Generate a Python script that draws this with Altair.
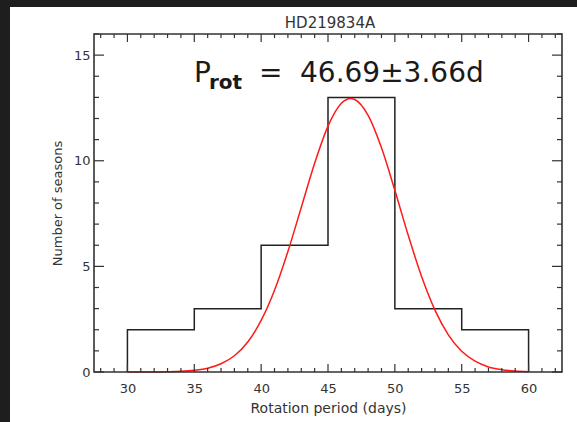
import altair as alt
import pandas as pd

# ---- data ----
bin_left = [30, 35, 40, 45, 50, 55]
bin_right = [35, 40, 45, 50, 55, 60]
counts = [2, 3, 6, 13, 3, 2]

# red fitted curve
fit_x = [30, 31, 32, 33, 34, 35, 36, 37, 38, 39, 40, 41, 42, 43, 44, 45, 46, 46.7,
         47, 48, 49, 50, 51, 52, 53, 54, 55, 56, 57, 58, 59, 60]
fit_y = [0.0, 0.0, 0.0, 0.01, 0.03, 0.08, 0.18, 0.39, 0.77, 1.42, 2.44, 3.87, 5.70,
         7.79, 9.88, 11.64, 12.72, 12.95, 12.90, 12.15, 10.61, 8.60, 6.47, 4.52,
         2.93, 1.76, 0.98, 0.51, 0.24, 0.11, 0.045, 0.017]

x_major = [30, 35, 40, 45, 50, 55, 60]
x_minor = [v for v in range(28, 63) if v % 5 != 0]
y_major = [0, 5, 10, 15]
y_minor = [v for v in range(1, 17) if v % 5 != 0]

title_text = "HD219834A"
x_title = "Rotation period (days)"
y_title = "Number of seasons"
ann_p = "P"
ann_sub = "rot"
ann_eq = "="
ann_val = "46.69\u00b13.66d"

W, H = 468, 338
FONT = "DejaVu Sans"
INK = "#333333"

# ---- tables built from the arrays ----
step_x, step_y = [bin_left[0]], [0]
for l, r, c in zip(bin_left, bin_right, counts):
    step_x += [l, r]
    step_y += [c, c]
step_x.append(bin_right[-1])
step_y.append(0)
hist_df = pd.DataFrame({"x": step_x, "y": step_y, "i": range(len(step_x))})
fit_df = pd.DataFrame({"x": fit_x, "y": fit_y})
one = pd.DataFrame({"k": [0]})

xs = alt.Scale(domain=[27.5, 62.5], nice=False, zero=False)
ys = alt.Scale(domain=[0, 16], nice=False, zero=False)

ax_x = alt.Axis(values=x_major, format="d", ticks=False, domain=False, grid=False,
                labelFont=FONT, labelFontSize=13, labelColor=INK, labelPadding=10,
                title=x_title, titleFont=FONT, titleFontSize=14, titleFontWeight="normal",
                titleColor=INK, titlePadding=6, zindex=1)
ax_y = alt.Axis(values=y_major, format="d", ticks=False, domain=False, grid=False,
                labelFont=FONT, labelFontSize=13, labelColor=INK, labelPadding=4,
                title=y_title, titleFont=FONT, titleFontSize=13, titleFontWeight="normal",
                titleColor=INK, titlePadding=9, zindex=1)

bg = alt.Chart(one).mark_rect(color="white").encode(
    x=alt.value(-84), x2=alt.value(483), y=alt.value(-27), y2=alt.value(388))

hist = alt.Chart(hist_df).mark_line(color="#222222", strokeWidth=1.5).encode(
    x=alt.X("x:Q", scale=xs, axis=ax_x),
    y=alt.Y("y:Q", scale=ys, axis=ax_y),
    order="i:Q")

fit = alt.Chart(fit_df).mark_line(color="#ff1a1a", strokeWidth=1.5, interpolate="monotone").encode(
    x=alt.X("x:Q", scale=xs, axis=ax_x),
    y=alt.Y("y:Q", scale=ys, axis=ax_y))

TICK = "#333333"
def xticks(vals, length):
    d = pd.DataFrame({"v": vals})
    bottom = alt.Chart(d).mark_rule(color=TICK, strokeWidth=1.2).encode(
        x=alt.X("v:Q", scale=xs, axis=ax_x), y=alt.value(H), y2=alt.value(H - length))
    top = alt.Chart(d).mark_rule(color=TICK, strokeWidth=1.2).encode(
        x=alt.X("v:Q", scale=xs, axis=ax_x), y=alt.value(0), y2=alt.value(length))
    return [bottom, top]

def yticks(vals, length):
    d = pd.DataFrame({"v": vals})
    left = alt.Chart(d).mark_rule(color=TICK, strokeWidth=1.2).encode(
        y=alt.Y("v:Q", scale=ys, axis=ax_y), x=alt.value(0), x2=alt.value(length))
    right = alt.Chart(d).mark_rule(color=TICK, strokeWidth=1.2).encode(
        y=alt.Y("v:Q", scale=ys, axis=ax_y), x=alt.value(W), x2=alt.value(W - length))
    return [left, right]

frame = alt.Chart(one).mark_rect(fillOpacity=0, stroke="#333333", strokeWidth=1.6).encode(
    x=alt.value(0), x2=alt.value(W), y=alt.value(0), y2=alt.value(H))

def label(text, x, y, size, weight="normal", align="left", color="#1a1a1a"):
    return alt.Chart(one).mark_text(font=FONT, fontSize=size, fontWeight=weight,
                                    align=align, baseline="alphabetic", color=color).encode(
        x=alt.value(x), y=alt.value(y), text=alt.value(text))

texts = [
    label(title_text, 236, -6, 15, align="center", color=INK),
    label(ann_p, 100, 48, 28),
    label(ann_sub, 115, 55, 20, weight="bold"),
    label(ann_eq, 165, 48, 28),
    label(ann_val, 206, 48, 28),
]

chart = alt.layer(
    bg, hist, fit,
    *xticks(x_major, 8), *xticks(x_minor, 4),
    *yticks(y_major, 10), *yticks(y_minor, 5),
    frame, *texts,
).properties(
    width=W, height=H,
    autosize=alt.AutoSizeParams(type="none"),
    padding={"left": 94, "top": 34, "right": 15, "bottom": 50},
    background="#1e1e1e",
).configure_view(strokeWidth=0)

chart.save("out.html", embed_options={"renderer": "svg", "actions": False})
